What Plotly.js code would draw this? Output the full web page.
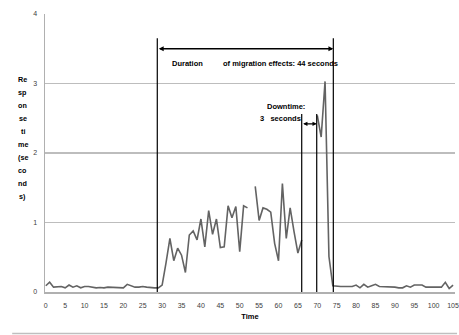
<!DOCTYPE html>
<html>
<head>
<meta charset="utf-8">
<script src="https://cdn.plot.ly/plotly-3.0.1.min.js"></script>
<style>html,body{margin:0;padding:0;background:#fff;}#chart{width:459px;height:335px;}</style>
</head>
<body>
<div id="chart"></div>
<script>
// Time (seconds)
const timeSec = [0,1,2,3,4,5,6,7,8,9,10,11,12,13,14,15,16,17,18,19,20,21,22,23,24,25,26,27,28,29,30,31,32,33,34,35,36,37,38,39,40,41,42,43,44,45,46,47,48,49,50,51,52,53,54,55,56,57,58,59,60,61,62,63,64,65,66,67,68,69,70,71,72,73,74,75,76,77,78,79,80,81,82,83,84,85,86,87,88,89,90,91,92,93,94,95,96,97,98,99,100,101,102,103,104,105];
// Response time (seconds); null = no response
const responseTime = [
  0.09,0.14,0.07,0.07,0.08,0.06,0.10,0.07,0.09,0.06,
  0.08,0.08,0.07,0.06,0.065,0.06,0.07,0.07,0.065,0.06,
  0.06,0.11,0.09,0.07,0.07,0.08,0.07,0.06,0.06,0.06,
  0.10,0.42,0.77,0.45,0.63,0.53,0.28,0.82,0.88,0.75,
  1.05,0.65,1.17,0.83,1.05,0.64,0.65,1.24,1.07,1.23,
  0.58,1.24,1.21,null,1.52,1.03,1.21,1.19,1.15,0.70,
  0.45,1.56,0.77,1.21,0.87,0.56,0.75,null,null,null,
  2.54,2.23,3.03,0.51,0.09,0.08,0.08,0.08,0.08,0.08,
  0.10,0.06,0.11,0.07,0.09,0.11,0.08,0.08,0.07,0.07,
  0.07,0.06,0.06,0.09,0.07,0.10,0.10,0.10,0.07,0.07,
  0.07,0.07,0.07,0.14,0.05,0.10
];
// Annotation markers (seconds)
const migrationStart = 28.75, migrationEnd = 74.13;
const downtimeStart = 65.98, downtimeEnd = 69.85;
const yTitleLines = ["Re","sp","on","se","ti","me","(se","co","nd","s)"];
const xTickVals = [0,5,10,15,20,25,30,35,40,45,50,55,60,65,70,75,80,85,90,95,100,105];
const yTickVals = [0,1,2,3,4];

const FONT = "Liberation Sans, Arial, sans-serif";
const trace = {
  x: timeSec, y: responseTime, type: 'scatter', mode: 'lines',
  line: {color: '#636363', width: 1.6}, connectgaps: false, hoverinfo: 'skip'
};

const shapes = [
  {type:'line', xref:'x', yref:'y', x0:migrationStart, x1:migrationStart, y0:0, y1:3.65, line:{color:'#000', width:1.2}},
  {type:'line', xref:'x', yref:'y', x0:migrationEnd, x1:migrationEnd, y0:0, y1:3.65, line:{color:'#000', width:1.2}},
  {type:'line', xref:'x', yref:'y', x0:downtimeStart, x1:downtimeStart, y0:0, y1:2.56, line:{color:'#000', width:1.2}},
  {type:'line', xref:'x', yref:'y', x0:downtimeEnd, x1:downtimeEnd, y0:0, y1:2.56, line:{color:'#000', width:1.2}},
  {type:'line', xref:'paper', yref:'paper', x0:-0.08, x1:1.005, y0:-0.149, y1:-0.149, line:{color:'#bfbfbf', width:1.5}}
];

const annotations = [
  {x:migrationEnd, y:3.5, ax:migrationStart, ay:3.5, xref:'x', yref:'y', axref:'x', ayref:'y', text:'', showarrow:true, arrowhead:2, startarrowhead:2, arrowside:'end+start', arrowsize:0.7, arrowwidth:1.4, arrowcolor:'#000'},
  {x:downtimeEnd, y:2.42, ax:downtimeStart, ay:2.42, xref:'x', yref:'y', axref:'x', ayref:'y', text:'', showarrow:true, arrowhead:2, startarrowhead:2, arrowside:'end+start', arrowsize:0.7, arrowwidth:1.2, arrowcolor:'#000'},
  {x:32.0, y:3.295, xref:'x', yref:'y', xanchor:'left', yanchor:'middle', text:'<b>Duration</b>', showarrow:false, font:{family:FONT, size:7.5, color:'#000'}},
  {x:45.17, y:3.295, xref:'x', yref:'y', xanchor:'left', yanchor:'middle', text:'<b>of migration effects: 44 seconds</b>', showarrow:false, font:{family:FONT, size:7.5, color:'#000'}},
  {x:56.5, y:2.676, xref:'x', yref:'y', xanchor:'left', yanchor:'middle', text:'<b>Downtime:</b>', showarrow:false, font:{family:FONT, size:7.5, color:'#000'}},
  {x:54.7, y:2.5, xref:'x', yref:'y', xanchor:'left', yanchor:'middle', text:'<b>3&nbsp;&nbsp;&nbsp;seconds</b>', showarrow:false, font:{family:FONT, size:7.5, color:'#000'}}
];
yTitleLines.forEach((t, i) => {
  annotations.push({x:-0.054, y:3.06 - i*0.187, xref:'paper', yref:'y', xanchor:'center', yanchor:'middle', text:'<b>'+t+'</b>', showarrow:false, font:{family:FONT, size:7.2, color:'#000'}});
});

const layout = {
  width:459, height:335,
  margin:{l:45, r:4, t:14, b:43, pad:0},
  paper_bgcolor:'#fff', plot_bgcolor:'#fff',
  showlegend:false,
  font:{family:FONT, color:'#000'},
  xaxis:{
    range:[-0.2, 105.5], tickvals:xTickVals, ticktext:xTickVals.map(String),
    showgrid:false, zeroline:false, showline:true, linecolor:'#b0b0b0', linewidth:1.5,
    ticks:'', tickfont:{family:FONT, size:7, color:'#404040'}, ticklabelstandoff:6,
    ticklabeloverflow:'allow',
    title:{text:'<b>Time</b>', font:{family:FONT, size:7.5, color:'#000'}, standoff:6}
  },
  yaxis:{
    range:[0, 4], tickvals:yTickVals, ticktext:yTickVals.map(String),
    showgrid:true, gridcolor:'#bdbdbd', gridwidth:1.5, zeroline:false,
    showline:true, linecolor:'#b0b0b0', linewidth:1.5,
    ticks:'', tickfont:{family:FONT, size:7, color:'#404040'}, ticklabelstandoff:5
  },
  shapes: shapes,
  annotations: annotations
};

Plotly.newPlot('chart', [trace], layout, {displayModeBar:false, staticPlot:true});
</script>
</body>
</html>
